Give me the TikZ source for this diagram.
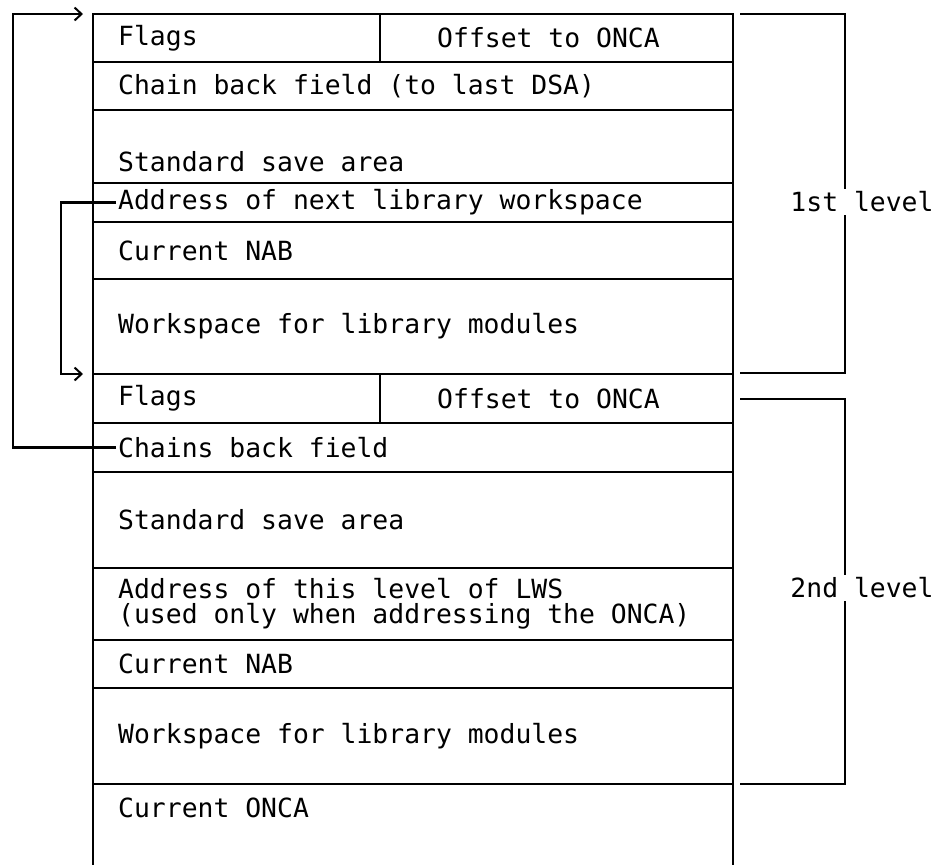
\documentclass[tikz,border=0pt]{standalone}
\usepackage{fontspec}
\setmonofont{DejaVu Sans Mono}
\usetikzlibrary{arrows.meta}

\newcommand{\memfont}{\ttfamily\fontsize{26.4}{25}\selectfont}

\tikzset{
  cell/.style={draw, line width=2.2pt, anchor=north west, outer sep=0pt,
    inner sep=0pt, minimum width=640pt},
  halfcell/.style={cell, minimum width=287pt},
  offcell/.style={cell, minimum width=353pt},
  txt/.style={anchor=west, xshift=25pt, inner sep=0pt, align=left},
  lvl/.style={inner sep=3pt},
  link/.style={line width=2.2pt, -{Straight Barb[length=7pt,width=13pt,line width=2pt]}},
  brace/.style={line width=2.2pt},
}

\begin{document}
\begin{tikzpicture}[x=1pt, y=-1pt, font=\memfont]
  \useasboundingbox (0,0) rectangle (936,865);

  % -- 1st level DSA --
  \node[halfcell, minimum height=48pt, label={[txt]west:Flags}] (flagsA) at (93,14) {};
  \node[offcell, minimum height=48pt] (offsetA) at (flagsA.north east) {\hspace*{-16pt}Offset to ONCA};
  \node[cell, minimum height=48pt, label={[txt]west:Chain back field (to last DSA)}] (chainA) at (flagsA.south west) {};
  \node[cell, minimum height=73pt, label={[txt, yshift=-15pt]west:Standard save area}] (saveA) at (chainA.south west) {};
  \node[cell, minimum height=39pt, label={[txt]west:Address of next library workspace}] (nextA) at (saveA.south west) {};
  \node[cell, minimum height=57pt, label={[txt]west:Current NAB}] (nabA) at (nextA.south west) {};
  \node[cell, minimum height=95pt, label={[txt]west:Workspace for library modules}] (workA) at (nabA.south west) {};

  % -- 2nd level DSA --
  \node[halfcell, minimum height=49pt, label={[txt]west:Flags}] (flagsB) at (workA.south west) {};
  \node[offcell, minimum height=49pt] (offsetB) at (flagsB.north east) {\hspace*{-16pt}Offset to ONCA};
  \node[cell, minimum height=49pt, label={[txt]west:Chains back field}] (chainB) at (flagsB.south west) {};
  \node[cell, minimum height=96pt, label={[txt]west:Standard save area}] (saveB) at (chainB.south west) {};
  \node[cell, minimum height=72pt, label={[txt]west:{Address of this level of LWS\\(used only when addressing the ONCA)}}] (lwsB) at (saveB.south west) {};
  \node[cell, minimum height=48pt, label={[txt]west:Current NAB}] (nabB) at (lwsB.south west) {};
  \node[cell, minimum height=96pt, label={[txt]west:Workspace for library modules}] (workB) at (nabB.south west) {};

  % -- ONCA, open at the bottom --
  \node[cell, draw=none, minimum height=48pt, label={[txt]west:Current ONCA}] (onca) at (workB.south west) {};
  \draw[line width=2.2pt] (onca.north west) -- ++(0,81) (onca.north east) -- ++(0,81);

  % -- Level brackets --
  \coordinate (brA) at (845,14);
  \node[lvl] (lvlA) at (862,202) {1st level};
  \draw[brace] (740,14) -- (brA) -- (lvlA.north -| brA);
  \draw[brace] (lvlA.south -| brA) -- (845,373) -- (740,373);

  \coordinate (brB) at (845,399);
  \node[lvl] (lvlB) at (862,588) {2nd level};
  \draw[brace] (740,399) -- (brB) -- (lvlB.north -| brB);
  \draw[brace] (lvlB.south -| brB) -- (845,784) -- (740,784);

  % -- Chain pointers --
  \draw[link] ([xshift=23pt]chainB.west) -- ++(-103,0) |- ([xshift=-10pt]flagsA.north west);
  \draw[link] ([xshift=23pt]nextA.west) -- ++(-55,0) |- ([xshift=-10pt]flagsB.north west);

\end{tikzpicture}
\end{document}
